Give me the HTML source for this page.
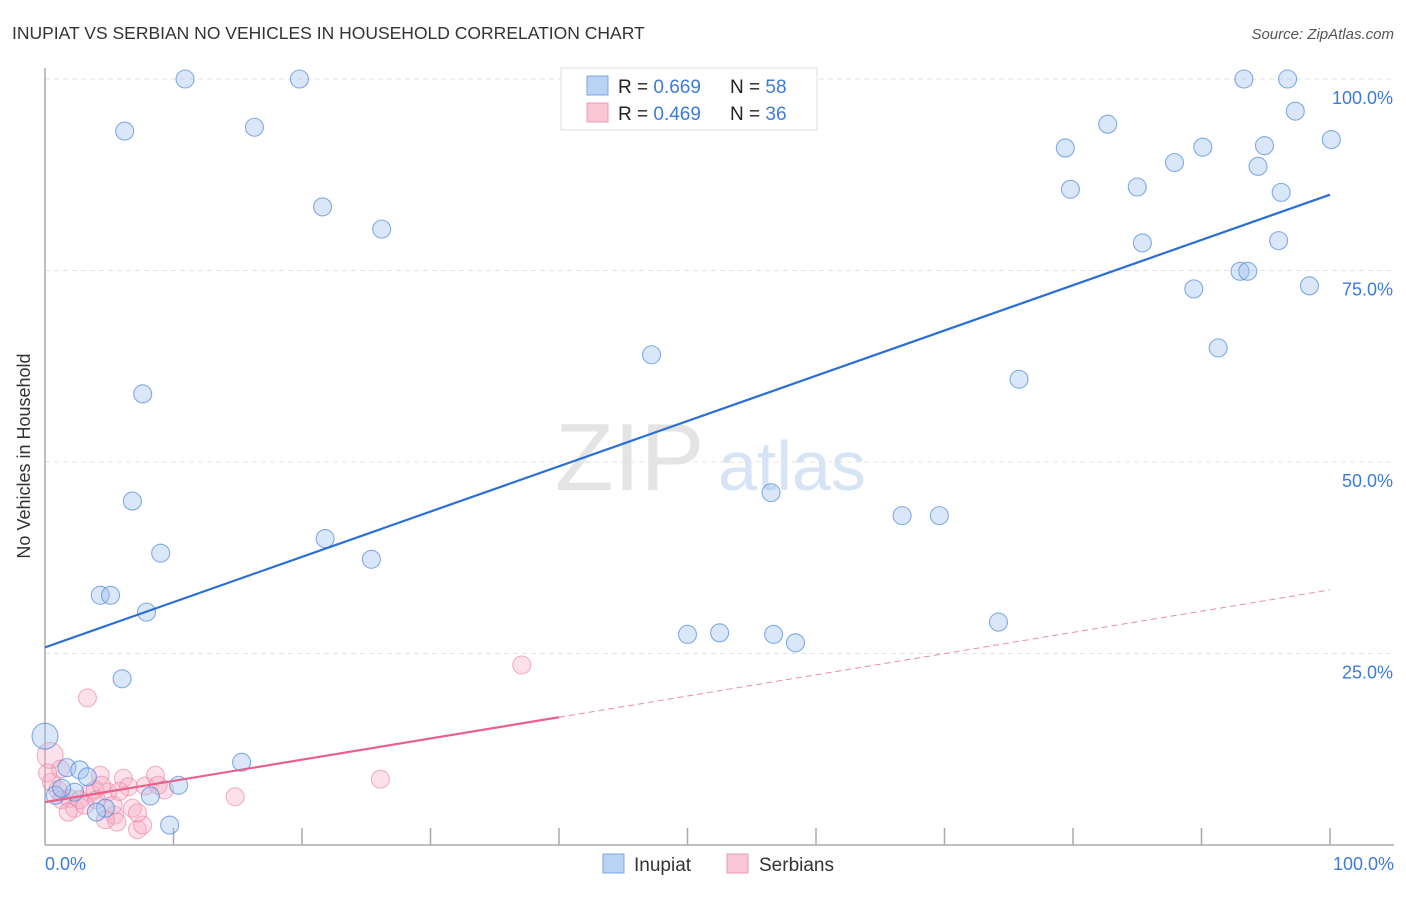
<!DOCTYPE html>
<html><head><meta charset="utf-8"><style>
body{margin:0;background:#fff;font-family:"Liberation Sans",sans-serif;}
svg text{font-family:"Liberation Sans",sans-serif;}
</style></head><body>
<svg id="chart" width="1406" height="892">
<text x="12" y="39" font-size="17.5" fill="#333">INUPIAT VS SERBIAN NO VEHICLES IN HOUSEHOLD CORRELATION CHART</text>
<text x="1394" y="39" font-size="15" fill="#555" text-anchor="end" font-style="italic">Source: ZipAtlas.com</text>
<g id="grid"></g>
<text x="555" y="490" font-size="96" fill="#e4e4e4" font-family="Liberation Serif">ZIP</text>
<text x="718" y="490" font-size="70" fill="#d6e4f5">atlas</text>
<line x1="45" y1="68" x2="45" y2="845" stroke="#aaa" stroke-width="1.5"/>
<line x1="45" y1="845" x2="1394" y2="845" stroke="#aaa" stroke-width="1.5"/>
<g id="ticks"></g>
<text x="30" y="456" font-size="18" fill="#333" text-anchor="middle" transform="rotate(-90 30 456)">No Vehicles in Household</text>
<text x="45" y="870" font-size="18" fill="#3d7bd9">0.0%</text>
<text x="1394" y="870" font-size="18" fill="#3d7bd9" text-anchor="end">100.0%</text>
<g id="ylabels"></g>
<g id="pts"></g>
<g id="lines"></g>
<g>
<rect x="561" y="68" width="256" height="62" fill="#fff" stroke="#ddd"/>
<rect x="587" y="76" width="21" height="19" fill="#b9d3f5" stroke="#7aa7e6"/>
<rect x="587" y="103" width="21" height="19" fill="#f9c6d6" stroke="#eb9ab5"/>
<text x="618" y="93" font-size="19" fill="#222">R = <tspan fill="#3d7bd9">0.669</tspan></text>
<text x="730" y="93" font-size="19" fill="#222">N = <tspan fill="#3d7bd9">58</tspan></text>
<text x="618" y="120" font-size="19" fill="#222">R = <tspan fill="#3d7bd9">0.469</tspan></text>
<text x="730" y="120" font-size="19" fill="#222">N = <tspan fill="#3d7bd9">36</tspan></text>
</g>
<g>
<rect x="603" y="854" width="21" height="19" fill="#b9d3f5" stroke="#7aa7e6"/>
<text x="634" y="871" font-size="19" fill="#333">Inupiat</text>
<rect x="727" y="854" width="21" height="19" fill="#f9c6d6" stroke="#eb9ab5"/>
<text x="759" y="871" font-size="19" fill="#333">Serbians</text>
</g>
</svg>
<script>
const yTicks=[25,50,75,100];
const yTickLabels=["25.0%","50.0%","75.0%","100.0%"];
const blueX=[10.9,19.8,6.2,16.3,21.6,26.2,7.6,6.8,9.0,4.3,5.1,7.9,6.0,21.8,25.4,47.2,56.5,50.0,52.5,56.7,58.4,66.7,69.6,74.2,75.8,79.4,79.8,82.7,85.0,85.4,87.9,89.4,90.1,91.3,93.0,93.6,94.4,94.9,96.0,96.2,97.3,98.4,100.1,93.3,96.7,0,15.3,9.7,1.7,2.7,3.3,0.8,2.3,1.3,8.2,10.4,4.7,4.0];
const blueY=[100,100,93.2,93.7,83.3,80.4,58.9,44.9,38.1,32.6,32.6,30.4,21.7,40.0,37.3,64.0,46.0,27.5,27.7,27.5,26.4,43.0,43.0,29.1,60.8,91.0,85.6,94.1,85.9,78.6,89.1,72.6,91.1,64.9,74.9,74.9,88.6,91.3,78.9,85.2,95.8,73.0,92.1,100,100,14.2,10.8,2.6,10.1,9.8,8.9,6.5,6.9,7.4,6.4,7.8,4.8,4.3];
const pinkX=[3.3,37.1,26.1,14.8,0.4,0.5,1.0,1.3,1.9,2.3,2.7,3.5,3.9,4.3,4.0,4.9,5.4,5.6,6.1,6.5,6.8,7.2,7.6,7.8,8.6,8.8,9.3,5.3,1.8,3.1,5.8,7.2,4.7,4.4,1.2,0.2];
const pinkY=[19.2,23.5,8.6,6.3,11.7,8.2,7.2,5.9,6.1,4.8,5.9,6.8,7.2,9.1,5.9,6.9,3.9,3.0,8.7,7.6,4.8,2.0,2.6,7.7,9.1,7.8,7.2,5.2,4.3,5.2,7.0,4.2,3.3,7.8,9.9,9.4];
const blueTrend=[25.8,84.9];
const pinkTrend=[5.6,33.3];
const pinkSolidEnd=40;
const NS="http://www.w3.org/2000/svg";
const X0=45,X1=1330,Y0=845,Y1=79;
function sx(v){return X0+(X1-X0)*v/100;}
function sy(v){return Y0-(Y0-Y1)*v/100;}
function mk(t,a,parent){const e=document.createElementNS(NS,t);for(const k in a)e.setAttribute(k,a[k]);document.getElementById(parent).appendChild(e);return e;}
yTicks.forEach((v,i)=>{
 const g=mk('line',{x1:45,x2:1394,y1:sy(v),y2:sy(v),stroke:'#e2e2e2','stroke-dasharray':'5,4'},'grid');
 
 
 const t=mk('text',{x:1393,y:sy(v)+25,'font-size':18,fill:'#3d7bd9','text-anchor':'end'},'ylabels');
 t.textContent=yTickLabels[i];
 
 
});
for(let i=1;i<=10;i++){
 const l=mk('line',{x1:sx(i*10),x2:sx(i*10),y1:828,y2:845,stroke:'#aaa','stroke-width':1.5},'ticks');
 
 
}
pinkX.forEach((x,i)=>{
 const c=mk('circle',{cx:sx(x),cy:sy(pinkY[i]),r:i==4?13:9,fill:'rgba(246,168,194,0.35)',stroke:'rgba(232,130,165,0.6)','stroke-width':1.1},'pts');
 
 
});
blueX.forEach((x,i)=>{
 const c=mk('circle',{cx:sx(x),cy:sy(blueY[i]),r:i==45?13:9,fill:'rgba(160,196,240,0.4)',stroke:'rgba(70,130,215,0.65)','stroke-width':1.1},'pts');
 
 
});
const bl=mk('line',{x1:sx(0),y1:sy(blueTrend[0]),x2:sx(100),y2:sy(blueTrend[1]),stroke:'#2a6fd6','stroke-width':2.2},'lines');


const pAt=v=>pinkTrend[0]+(pinkTrend[1]-pinkTrend[0])*v/100;
const pl=mk('line',{x1:sx(0),y1:sy(pAt(0)),x2:sx(pinkSolidEnd),y2:sy(pAt(pinkSolidEnd)),stroke:'#e8608e','stroke-width':2.2},'lines');


const pd=mk('line',{x1:sx(pinkSolidEnd),y1:sy(pAt(pinkSolidEnd)),x2:sx(100),y2:sy(pAt(100)),stroke:'#eb8aab','stroke-width':1,'stroke-dasharray':'6,4'},'lines');


</script>
</body></html>
